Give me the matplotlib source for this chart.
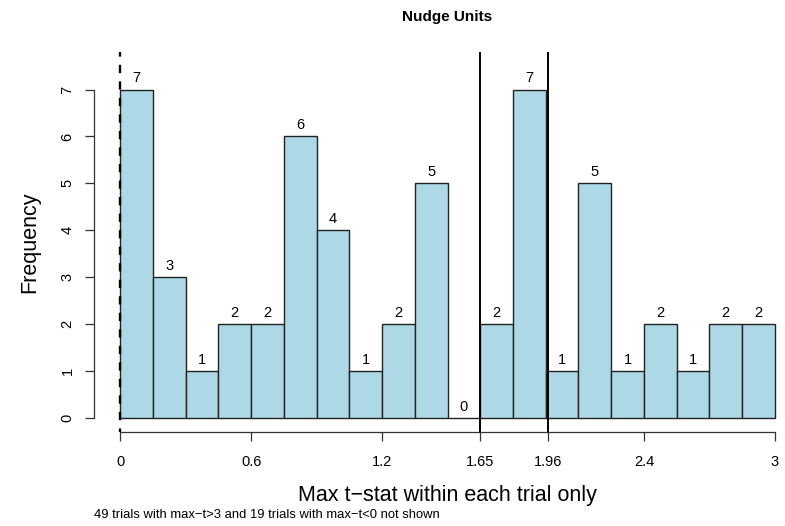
import numpy as np
import matplotlib
matplotlib.use("Agg")
import matplotlib.pyplot as plt

plt.rcParams['font.family'] = ['Liberation Sans', 'DejaVu Sans']

# histogram of max t-stat per trial, 0.15 wide bins on [0, 3]
bin_left = [0.0, 0.15, 0.3, 0.45, 0.6, 0.75, 0.9, 1.05, 1.2, 1.35,
            1.5, 1.65, 1.8, 1.95, 2.1, 2.25, 2.4, 2.55, 2.7, 2.85]
bin_width = 0.15
counts = [7, 3, 1, 2, 2, 6, 4, 1, 2, 5, 0, 2, 7, 1, 5, 1, 2, 1, 2, 2]

x_ticks = [0, 0.6, 1.2, 1.65, 1.96, 2.4, 3]
x_ticklabels = ["0", "0.6", "1.2", "1.65", "1.96", "2.4", "3"]
y_ticks = [0, 1, 2, 3, 4, 5, 6, 7]
cutoffs = [1.65, 1.96]

W, H = 785, 526
fig = plt.figure(figsize=(W / 100, H / 100), dpi=100)
# plot region runs a little past the right edge, like the base-R layout
ax = fig.add_axes([94 / W, (H - 432) / H, (801 - 94) / W, (432 - 52) / H])

ax.bar(bin_left, counts, width=bin_width, align='edge',
       color='#ADD8E6', edgecolor='#222222', linewidth=1.0, zorder=2)

for xl, c in zip(bin_left, counts):
    ax.annotate(str(c), (xl + bin_width / 2, c), xytext=(0, 3),
                textcoords='offset points', ha='center', va='bottom',
                fontsize=10.5, zorder=4)

ax.axvline(0, color='black', linewidth=1.7, linestyle=(2, (3.5, 3.5)), zorder=3)
for c in cutoffs:
    ax.axvline(c, color='black', linewidth=1.4, zorder=3)

ax.set_xlim(-0.12, 3.12)
ax.set_ylim(-0.3, 7.8)

for s in ['top', 'right']:
    ax.spines[s].set_visible(False)
ax.spines['left'].set_bounds(0, 7)
ax.spines['bottom'].set_bounds(0, 3)
for s in ['left', 'bottom']:
    ax.spines[s].set_linewidth(0.9)
    ax.spines[s].set_color('#333333')

ax.set_xticks(x_ticks)
ax.set_xticklabels(x_ticklabels)
ax.set_yticks(y_ticks)
ax.tick_params(axis='both', direction='out', length=6.5, width=0.9,
               color='#333333', labelsize=10.5)
ax.tick_params(axis='x', pad=10)
ax.tick_params(axis='y', pad=7.5)
for lab in ax.get_yticklabels():
    lab.set_rotation(90)
    lab.set_va('center')

ax.patch.set_visible(False)

fig.text(447 / W, 1 - 17 / H, "Nudge Units", ha='center', va='center',
         fontsize=11, fontweight='bold')
fig.text(447 / W, 1 - 495 / H, "Max t\u2212stat within each trial only",
         ha='center', va='center', fontsize=15.5)
fig.text(30 / W, 1 - 242 / H, "Frequency", ha='center', va='center',
         rotation=90, fontsize=15.5)
fig.text(94 / W, 1 - 515 / H,
         "49 trials with max\u2212t>3 and 19 trials with max\u2212t<0 not shown",
         ha='left', va='center', fontsize=9.4)

fig.savefig("out.png", dpi=100)
